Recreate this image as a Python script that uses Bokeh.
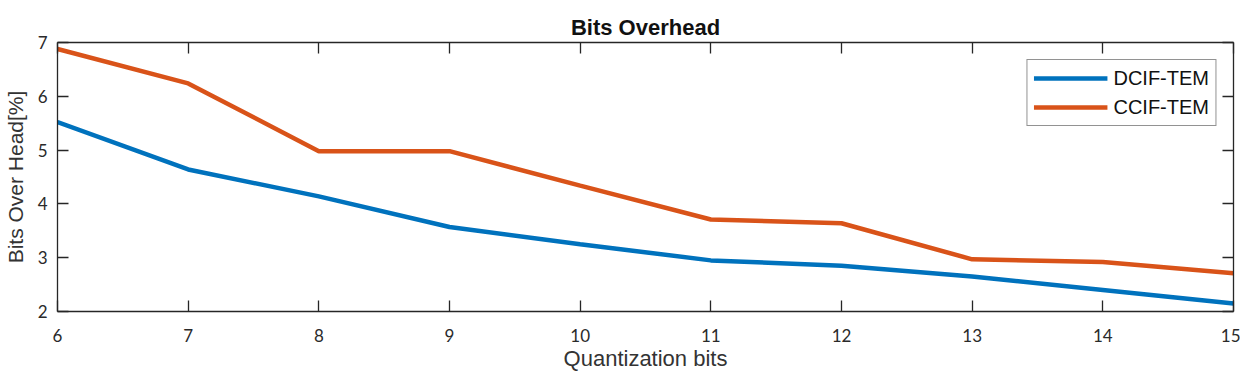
from bokeh.plotting import figure
from bokeh.models import Range1d, LinearAxis, Legend, LegendItem, FixedTicker
from bokeh.embed import file_html
from bokeh.resources import INLINE

bits = [6, 7, 8, 9, 10, 11, 12, 13, 14, 15]
dcif_tem = [5.52, 4.64, 4.14, 3.57, 3.25, 2.95, 2.85, 2.65, 2.40, 2.15]
ccif_tem = [6.88, 6.24, 4.98, 4.98, 4.34, 3.71, 3.64, 2.97, 2.92, 2.71]
x_ticks = [6, 7, 8, 9, 10, 11, 12, 13, 14, 15]
y_ticks = [2, 3, 4, 5, 6, 7]

AX = "#262626"
TICK_FONT = "Lato"
LBL_FONT = "Liberation Sans"

p = figure(width=1240, height=373, output_backend="svg", toolbar_location=None,
           x_range=Range1d(6, 15), y_range=Range1d(2, 7),
           min_border_left=56, min_border_right=7, min_border_top=42, min_border_bottom=61)
p.title.text = "Bits Overhead"
p.title.align = "center"
p.title.text_font = LBL_FONT
p.title.text_font_size = "22px"
p.title.text_font_style = "bold"
p.title.text_color = "#111111"
p.title.offset = 0
p.title.standoff = 6
p.xgrid.visible = False
p.ygrid.visible = False
p.outline_line_color = None

def style(ax, labels=True):
    ax.axis_line_color = AX
    ax.axis_line_width = 1.3
    ax.major_tick_line_color = AX
    ax.major_tick_line_width = 1.3
    ax.major_tick_in = 11
    ax.major_tick_out = 0
    ax.minor_tick_line_color = None
    ax.major_label_text_font = TICK_FONT
    ax.major_label_text_font_size = "17px"
    ax.major_label_text_color = "#2a2a2a"
    if not labels:
        ax.major_label_text_font_size = "0px"
        ax.major_label_text_color = None

xa = p.xaxis[0]
xa.ticker = FixedTicker(ticks=x_ticks)
style(xa)
xa.major_label_standoff = 17
xa.axis_label = "Quantization bits"
xa.axis_label_text_font = LBL_FONT
xa.axis_label_text_font_size = "22px"
xa.axis_label_text_font_style = "normal"
xa.axis_label_text_color = "#333333"
xa.axis_label_standoff = 1

ya = p.yaxis[0]
ya.ticker = FixedTicker(ticks=y_ticks)
style(ya)
ya.major_label_standoff = 10
ya.axis_label = "Bits Over Head[%]"
ya.axis_label_text_font = LBL_FONT
ya.axis_label_text_font_size = "21px"
ya.axis_label_text_font_style = "normal"
ya.axis_label_text_color = "#333333"
ya.axis_label_standoff = 8

top = LinearAxis(ticker=FixedTicker(ticks=x_ticks))
style(top, labels=False)
p.add_layout(top, "above")
right = LinearAxis(ticker=FixedTicker(ticks=y_ticks))
style(right, labels=False)
p.add_layout(right, "right")

r1 = p.line(bits, dcif_tem, line_color="#0072BD", line_width=4.5)
r2 = p.line(bits, ccif_tem, line_color="#D95319", line_width=4.5)

leg = Legend(items=[LegendItem(label="DCIF-TEM", renderers=[r1]),
                    LegendItem(label="CCIF-TEM", renderers=[r2])],
             location="top_right")
leg.border_line_color = AX
leg.border_line_width = 1.3
leg.label_text_font = LBL_FONT
leg.label_text_font_size = "20px"
leg.label_text_color = "#111111"
leg.glyph_width = 74
leg.glyph_height = 24
leg.label_standoff = 6
leg.spacing = 5
leg.padding = 6
leg.margin = 17
leg.background_fill_color = "white"
p.add_layout(leg, "center")

open("out.html", "w").write(file_html(p, INLINE))
